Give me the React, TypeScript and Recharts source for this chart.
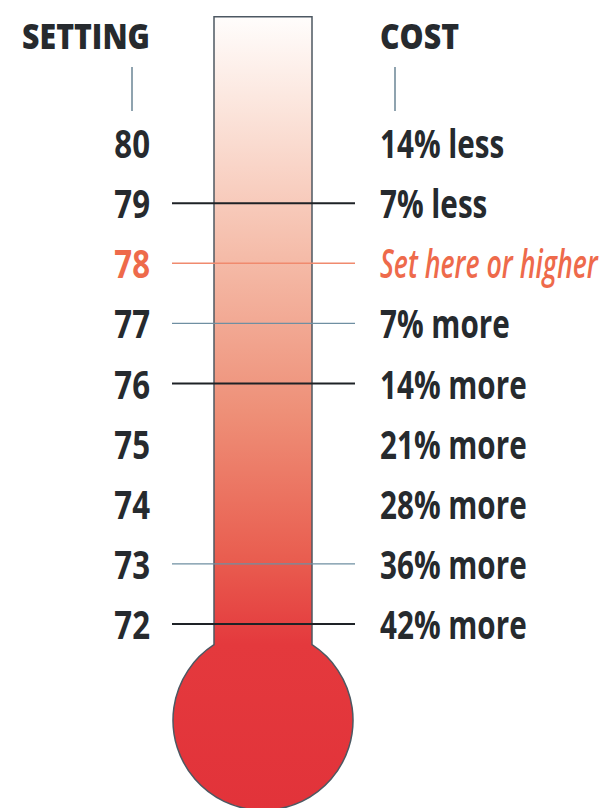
import { ComposedChart, XAxis, YAxis, ReferenceArea, ReferenceLine } from "recharts";

const settings = [80, 79, 78, 77, 76, 75, 74, 73, 72];
const costs = [
  "14% less",
  "7% less",
  "Set here or higher",
  "7% more",
  "14% more",
  "21% more",
  "28% more",
  "36% more",
  "42% more",
];
const recommended = 78;
const heavyRules = [79, 76, 72];
const lightRules = [77, 73];

// thermometer extent in degrees
const tubeTop = 82.1;
const bulbCenter = 70.4;
const domain: [number, number] = [68.94, 82.38];

const FONT = "'Open Sans', 'Noto Sans', sans-serif";
const INK = "#262a2e";
const ORANGE = "#ee6a4b";

// no condensed face installed, so squeeze horizontally
function Narrow({ x, y, anchor, size, squeeze, weight, italic, fill, children }: any) {
  return (
    <text
      transform={`translate(${x},${y}) scale(${squeeze},1)`}
      textAnchor={anchor}
      fontFamily={FONT}
      fontWeight={weight}
      fontStyle={italic ? "italic" : "normal"}
      fontSize={size}
      fill={fill}
    >
      {children}
    </text>
  );
}

function SettingTick({ x, y, payload }: any) {
  const hot = payload.value === recommended;
  return (
    <Narrow x={x} y={y + 15} anchor="end" size={39} squeeze={0.8} weight={700} fill={hot ? ORANGE : INK}>
      {payload.value}
    </Narrow>
  );
}

function CostTick({ x, y, payload }: any) {
  const i = settings.indexOf(payload.value);
  const hot = payload.value === recommended;
  return (
    <Narrow
      x={x}
      y={y + 15}
      anchor="start"
      size={39}
      squeeze={hot ? 0.685 : 0.76}
      weight={hot ? 600 : 700}
      italic={hot}
      fill={hot ? ORANGE : INK}
    >
      {costs[i]}
    </Narrow>
  );
}

function Heading({ viewBox, text, side }: any) {
  const left = side === "left";
  const tx = left ? viewBox.x + viewBox.width - 10 : viewBox.x;
  const lx = left ? viewBox.x + viewBox.width - 28 : viewBox.x + 15;
  return (
    <g>
      <Narrow x={tx} y={49} anchor={left ? "end" : "start"} size={36} squeeze={0.84} weight={800} fill={INK}>
        {text}
      </Narrow>
      <line x1={lx} x2={lx} y1={67} y2={111} stroke="#6a8494" strokeWidth={1.5} />
    </g>
  );
}

function Thermometer(props: any) {
  const { x, y, width, height } = props;
  const r = 90;
  const cy = y + height;
  const half = width / 2;
  const dy = Math.sqrt(r * r - half * half);
  const d = `M ${x} ${cy - dy} L ${x} ${y} L ${x + width} ${y} L ${x + width} ${cy - dy} A ${r} ${r} 0 1 1 ${x} ${cy - dy} Z`;
  const total = cy + r - y;
  const join = (cy - dy - y) / total;
  return (
    <g>
      <defs>
        <linearGradient id="mercury" x1="0" y1="0" x2="0" y2="1">
          <stop offset="0" stopColor="#fffdfc" />
          <stop offset={0.1} stopColor="#fce8e0" />
          <stop offset={0.3} stopColor="#f5bca9" />
          <stop offset={0.5} stopColor="#ee8f77" />
          <stop offset={0.68} stopColor="#e95e50" />
          <stop offset={join} stopColor="#e4393d" />
          <stop offset="1" stopColor="#e2333a" />
        </linearGradient>
      </defs>
      <path d={d} fill="url(#mercury)" stroke="#4d5862" strokeWidth={1.5} />
    </g>
  );
}

export default function App() {
  return (
    <div style={{ position: "absolute", left: 0, top: 0, width: 611, height: 808, background: "#fff" }}>
      <ComposedChart width={611} height={808} margin={{ top: 0, right: 0, left: 0, bottom: 0 }}>
        <XAxis type="number" dataKey="x" domain={[160, 380]} hide allowDataOverflow />
        <YAxis
          yAxisId="left"
          type="number"
          domain={domain}
          ticks={settings}
          width={160}
          axisLine={false}
          tickLine={false}
          tickSize={0}
          tickMargin={10}
          tick={<SettingTick />}
          allowDataOverflow
          interval={0}
          label={{ content: (p: any) => <Heading {...p} text="SETTING" side="left" /> }}
        />
        <YAxis
          yAxisId="right"
          orientation="right"
          type="number"
          domain={domain}
          ticks={settings}
          width={231}
          axisLine={false}
          tickLine={false}
          tickSize={0}
          tickMargin={0}
          tick={<CostTick />}
          allowDataOverflow
          interval={0}
          label={{ content: (p: any) => <Heading {...p} text="COST" side="right" /> }}
        />
        <ReferenceArea
          yAxisId="left"
          x1={214}
          x2={312}
          y1={bulbCenter}
          y2={tubeTop}
          ifOverflow="visible"
          shape={<Thermometer />}
        />
        {heavyRules.map((s) => (
          <ReferenceLine
            key={s}
            yAxisId="left"
            segment={[{ x: 172, y: s }, { x: 355, y: s }]}
            stroke="#1e2226"
            strokeWidth={2}
            ifOverflow="visible"
          />
        ))}
        {lightRules.map((s) => (
          <ReferenceLine
            key={s}
            yAxisId="left"
            segment={[{ x: 172, y: s }, { x: 355, y: s }]}
            stroke="#6f8fa2"
            strokeWidth={1.2}
            ifOverflow="visible"
          />
        ))}
        <ReferenceLine
          yAxisId="left"
          segment={[{ x: 172, y: recommended }, { x: 355, y: recommended }]}
          stroke="#f08a6e"
          strokeWidth={1.5}
          ifOverflow="visible"
        />
      </ComposedChart>
    </div>
  );
}
